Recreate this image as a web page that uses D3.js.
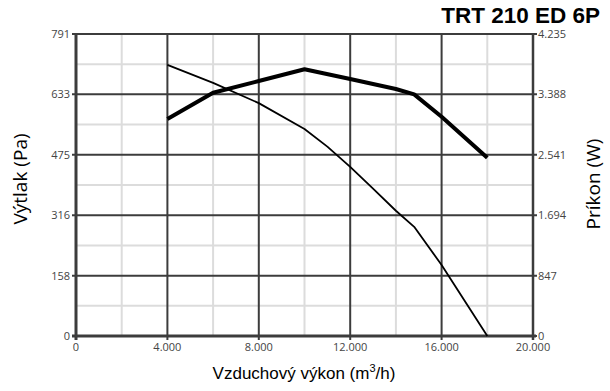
<!DOCTYPE html>
<html><head><meta charset="utf-8">
<script src="https://cdn.jsdelivr.net/npm/d3@7"></script>
<style>body{margin:0;background:#fff}svg{display:block}</style>
</head><body>
<svg id="c" width="610" height="391"></svg>
<script>
const title = "TRT 210 ED 6P";
const xTicks = [0, 4000, 8000, 12000, 16000, 20000];
const yLeftTicks = [0, 158, 316, 475, 633, 791];
const yRightTicks = [0, 847, 1694, 2541, 3388, 4235];
const airflow = [4000, 6000, 8000, 10000, 11000, 12000, 13000, 14000, 14800, 16000, 18000];
const pressure = [710, 663, 610, 542, 496, 443, 386, 328, 286, 186, 0];
const powerFlow = [4000, 6000, 8000, 10000, 12000, 14000, 14800, 16000, 18000];
const power = [3043, 3412, 3576, 3740, 3604, 3464, 3389, 3075, 2500];

const svg = d3.select("#c");
const m = {l:76, r:533, t:34, b:336};
const x = d3.scaleLinear().domain([0,20000]).range([m.l, m.r]);
const yL = d3.scaleLinear().domain([0,791]).range([m.b, m.t]);
const yR = d3.scaleLinear().domain([0,4235]).range([m.b, m.t]);
const fmt = v => d3.format(",")(v).replace(/,/g, ".");

// minor grid
const g = svg.append("g");
for (let i = 0; i < xTicks.length - 1; i++) {
  const mid = (xTicks[i] + xTicks[i+1]) / 2;
  g.append("line").attr("x1", x(mid)).attr("x2", x(mid)).attr("y1", m.t).attr("y2", m.b)
    .attr("stroke", "#dcdcdc").attr("stroke-width", 2);
}
for (let i = 0; i < yLeftTicks.length - 1; i++) {
  const mid = (yLeftTicks[i] + yLeftTicks[i+1]) / 2;
  g.append("line").attr("x1", m.l).attr("x2", m.r).attr("y1", yL(mid)).attr("y2", yL(mid))
    .attr("stroke", "#dcdcdc").attr("stroke-width", 2);
}
// major grid
xTicks.forEach(t => g.append("line").attr("x1", x(t)).attr("x2", x(t)).attr("y1", m.t).attr("y2", m.b + 4)
  .attr("stroke", "#3c3c3c").attr("stroke-width", 2));
yLeftTicks.forEach(t => g.append("line").attr("x1", m.l - 4).attr("x2", m.r + 4).attr("y1", yL(t)).attr("y2", yL(t))
  .attr("stroke", "#3c3c3c").attr("stroke-width", 2));
g.append("line").attr("x1", m.l).attr("x2", m.l).attr("y1", m.t).attr("y2", m.b + 4).attr("stroke", "#3c3c3c").attr("stroke-width", 3);
g.append("line").attr("x1", m.l - 4).attr("x2", m.r + 3).attr("y1", m.b).attr("y2", m.b).attr("stroke", "#3c3c3c").attr("stroke-width", 3);
g.append("line").attr("x1", m.r).attr("x2", m.r).attr("y1", m.t).attr("y2", m.b + 4).attr("stroke", "#3c3c3c").attr("stroke-width", 2.5);

// tick labels
const tf = "'Open Sans', 'DejaVu Sans', sans-serif";
xTicks.forEach(t => svg.append("text").attr("x", x(t)).attr("y", m.b + 15).attr("text-anchor", "middle")
  .attr("font-family", tf).attr("font-size", 11).attr("fill", "#444").text(fmt(t)));
yLeftTicks.forEach(t => svg.append("text").attr("x", m.l - 6).attr("y", yL(t) + 4).attr("text-anchor", "end")
  .attr("font-family", tf).attr("font-size", 11).attr("fill", "#444").text(fmt(t)));
yRightTicks.forEach(t => svg.append("text").attr("x", m.r + 5).attr("y", yR(t) + 4).attr("text-anchor", "start")
  .attr("font-family", tf).attr("font-size", 11).attr("fill", "#444").text(fmt(t)));

// curves
const lineL = d3.line().x((d,i) => x(airflow[i])).y(d => yL(d));
const lineR = d3.line().x((d,i) => x(powerFlow[i])).y(d => yR(d));
svg.append("path").attr("d", lineL(pressure)).attr("fill", "none").attr("stroke", "#000").attr("stroke-width", 1.8).attr("stroke-linejoin", "round");
svg.append("path").attr("d", lineR(power)).attr("fill", "none").attr("stroke", "#000").attr("stroke-width", 4).attr("stroke-linejoin", "round");

// titles
svg.append("text").attr("x", 600).attr("y", 23).attr("text-anchor", "end")
  .attr("font-family", "'Liberation Sans', Arial, sans-serif").attr("font-weight", "bold").attr("font-size", 22.5).attr("fill", "#000").text(title);
const xt = svg.append("text").attr("x", 304).attr("y", 379).attr("text-anchor", "middle")
  .attr("font-family", "'Liberation Sans', Arial, sans-serif").attr("font-size", 17).attr("fill", "#000");
xt.append("tspan").text("Vzduchový výkon (m");
xt.append("tspan").attr("dy", -7).attr("font-size", 11).text("3");
xt.append("tspan").attr("dy", 7).text("/h)");
svg.append("text").attr("transform", "translate(27,179) rotate(-90)").attr("text-anchor", "middle")
  .attr("font-family", "'Open Sans', sans-serif").attr("font-size", 19).attr("fill", "#000").text("Výtlak (Pa)");
svg.append("text").attr("transform", "translate(600,184) rotate(-90)").attr("text-anchor", "middle")
  .attr("font-family", "'Open Sans', sans-serif").attr("font-size", 19).attr("fill", "#000").text("Príkon (W)");
</script>
</body></html>
